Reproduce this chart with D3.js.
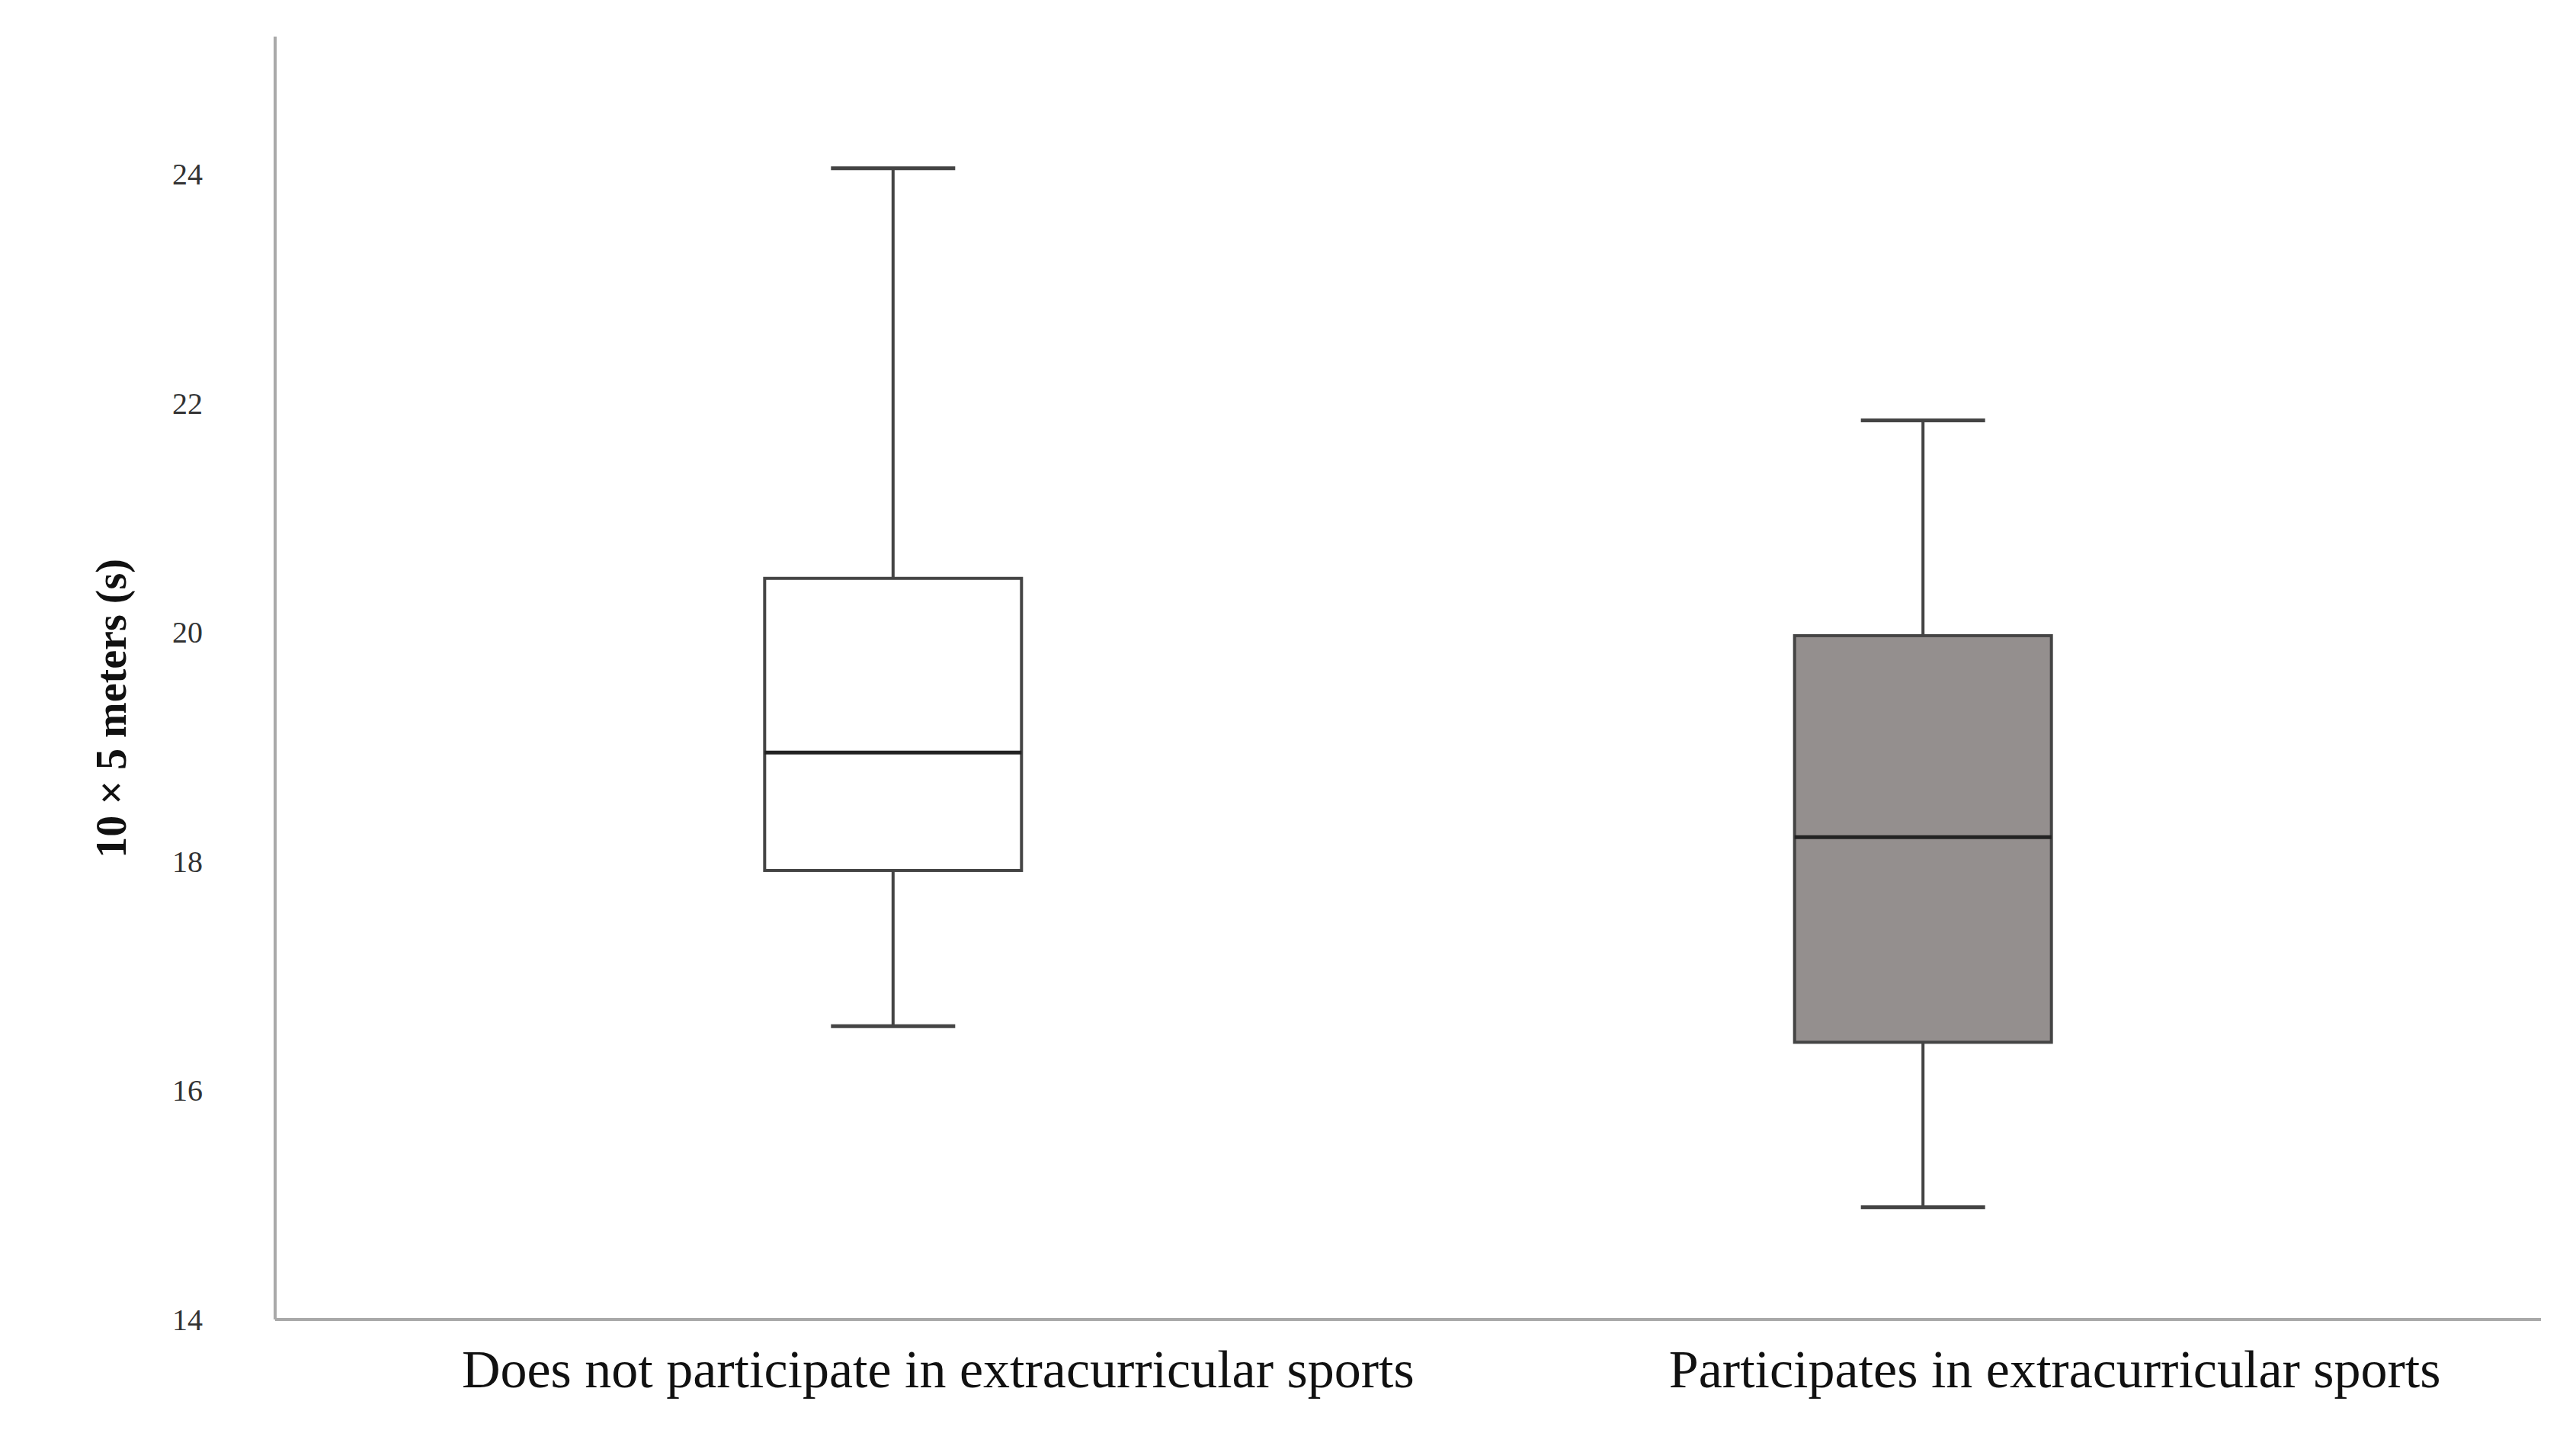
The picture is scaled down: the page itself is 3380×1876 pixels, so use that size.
<!DOCTYPE html>
<html><head><meta charset="utf-8">
<script src="https://cdn.jsdelivr.net/npm/d3@7"></script>
<style>body{margin:0;background:#fff}</style></head>
<body><svg id="c" width="3380" height="1876"></svg>
<script>
const categories = ["Does not participate in extracurricular sports", "Participates in extracurricular sports"];
const mins = [16.56, 14.98];
const q1s = [17.92, 16.42];
const medians = [18.95, 18.21];
const q3s = [20.47, 19.97];
const maxs = [24.05, 21.85];
const fills = ["#ffffff", "#948f8e"];
const yTicks = [14, 16, 18, 20, 22, 24];

const svg = d3.select("#c");
const L = 361, R = 3334, T = 48, B = 1731;
const y = d3.scaleLinear().domain([14, 25.2]).range([B, T]);
const x = d3.scalePoint().domain(categories).range([L, R]).padding(0.6);
const bw = 337, cw = 163;

svg.append("line").attr("x1", L).attr("x2", L).attr("y1", T).attr("y2", B).attr("stroke", "#a9a9a9").attr("stroke-width", 4);
svg.append("line").attr("x1", L).attr("x2", R).attr("y1", B).attr("y2", B).attr("stroke", "#a9a9a9").attr("stroke-width", 4);

svg.selectAll(".yt").data(yTicks).join("text")
  .attr("x", L - 95).attr("y", d => y(d)).attr("dy", "0.35em").attr("text-anchor", "end")
  .attr("font-family", "Liberation Serif").attr("font-size", 40).attr("fill", "#333").text(d => d);

svg.append("text").attr("transform", `translate(165,${(T+B)/2 + 40}) rotate(-90)`)
  .attr("text-anchor", "middle").attr("font-family", "Liberation Serif").attr("font-weight", "bold")
  .attr("font-size", 56).attr("fill", "#111").text("10 × 5 meters (s)");

const labelOffsets = [59, 173];
svg.selectAll(".xl").data(categories).join("text")
  .attr("x", (d, i) => x(d) + labelOffsets[i]).attr("y", 1820).attr("text-anchor", "middle")
  .attr("font-family", "Liberation Serif").attr("font-size", 70).attr("fill", "#111").text(d => d);

const g = svg.selectAll(".box").data(categories).join("g");
g.append("line").attr("x1", d => x(d)).attr("x2", d => x(d))
  .attr("y1", (d, i) => y(maxs[i])).attr("y2", (d, i) => y(mins[i])).attr("stroke", "#444").attr("stroke-width", 4);
g.append("rect").attr("x", d => x(d) - bw / 2).attr("width", bw)
  .attr("y", (d, i) => y(q3s[i])).attr("height", (d, i) => y(q1s[i]) - y(q3s[i]))
  .attr("fill", (d, i) => fills[i]).attr("stroke", "#444").attr("stroke-width", 4);
g.append("line").attr("x1", d => x(d) - bw / 2).attr("x2", d => x(d) + bw / 2)
  .attr("y1", (d, i) => y(medians[i])).attr("y2", (d, i) => y(medians[i])).attr("stroke", "#222").attr("stroke-width", 5);
[maxs, mins].forEach(arr => {
  g.append("line").attr("x1", d => x(d) - cw / 2).attr("x2", d => x(d) + cw / 2)
    .attr("y1", (d, i) => y(arr[i])).attr("y2", (d, i) => y(arr[i])).attr("stroke", "#444").attr("stroke-width", 5);
});
</script></body></html>
